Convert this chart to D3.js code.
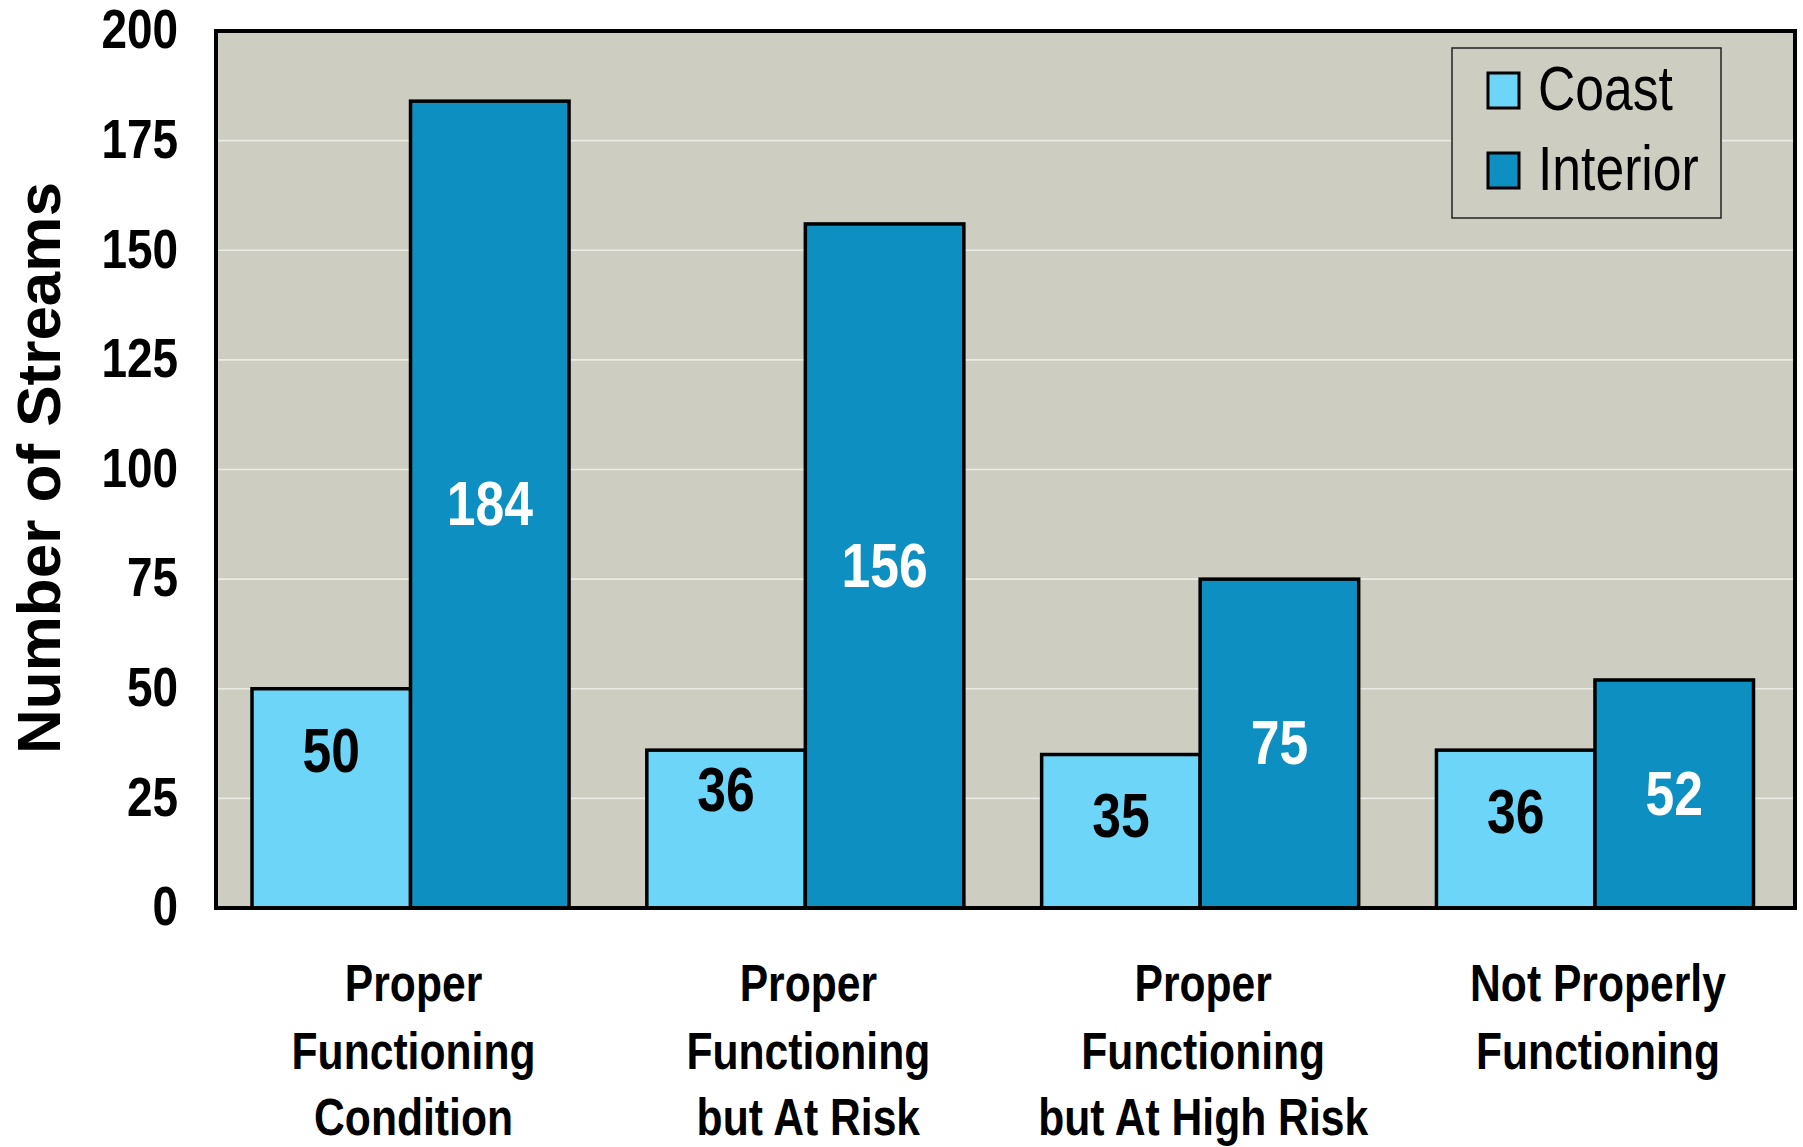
<!DOCTYPE html>
<html>
<head>
<meta charset="utf-8">
<script src="https://cdn.jsdelivr.net/npm/d3@7"></script>
<style>
  html, body { margin: 0; padding: 0; background: #ffffff; }
  svg { display: block; }
</style>
</head>
<body>
<svg id="chart" width="1803" height="1147"></svg>
<script>
// ---- data ----
const categories = [
  "Proper|Functioning|Condition",
  "Proper|Functioning|but At Risk",
  "Proper|Functioning|but At High Risk",
  "Not Properly|Functioning"
];
const seriesNames = ["Coast", "Interior"];
const coastValues = [50, 36, 35, 36];
const interiorValues = [184, 156, 75, 52];
const yTickValues = [0, 25, 50, 75, 100, 125, 150, 175, 200];
const coastLabelAt = [36, 27, 21, 22];   // where the Coast value labels sit, in data units
const yTitle = "Number of Streams";

(function () {
// ---- styles ----
const colors = { Coast: "#6dd5f8", Interior: "#0d8fc1" };
const bg = "#cdcdc1";
const NARROW = "'Liberation Sans Narrow', 'Arial Narrow', 'Liberation Sans', Arial, sans-serif";
const WIDE = "'Liberation Sans', Arial, sans-serif";

const svg = d3.select("#chart");

// detect narrow font availability
const probe = svg.append("text").attr("font-family", NARROW).attr("font-size", 50).text("Functioning Proper");
const probe2 = svg.append("text").attr("font-family", WIDE).attr("font-size", 50).text("Functioning Proper");
const ratio = probe.node().getComputedTextLength() / probe2.node().getComputedTextLength();
probe.remove(); probe2.remove();
const squeeze = ratio > 0.95 ? 0.82 : 1;  // fallback horizontal squeeze

function narrowText(sel, px, py) {
  return sel.attr("transform", `translate(${px},${py}) scale(${squeeze},1)`);
}

const pLeft = 216, pRight = 1795, pTop = 31, pBottom = 908;

const x = d3.scaleBand().domain(categories).range([214.5, 1791]).paddingInner(0.197).paddingOuter(0.095);
const xs = d3.scaleBand().domain(seriesNames).range([0, x.bandwidth()]).padding(0);
const y = d3.scaleLinear().domain([0, 200]).range([pBottom, pTop]);

// plot background
svg.append("rect").attr("x", pLeft).attr("y", pTop).attr("width", pRight - pLeft).attr("height", pBottom - pTop).attr("fill", bg);

// gridlines
svg.append("g").selectAll("line").data(yTickValues.filter(v => v > 0 && v < 200)).join("line")
  .attr("x1", pLeft).attr("x2", pRight)
  .attr("y1", d => y(d)).attr("y2", d => y(d))
  .attr("stroke", "#ebebe6").attr("stroke-width", 1.6);

// bars
const rows = categories.map((c, i) => ({ cat: c, Coast: coastValues[i], Interior: interiorValues[i], labelAt: coastLabelAt[i] }));
const groups = svg.append("g").selectAll("g").data(rows).join("g")
  .attr("transform", d => `translate(${x(d.cat)},0)`);

groups.selectAll("rect").data(d => seriesNames.map(s => ({ s, v: d[s] }))).join("rect")
  .attr("x", d => xs(d.s)).attr("width", xs.bandwidth())
  .attr("y", d => y(d.v)).attr("height", d => y(0) - y(d.v))
  .attr("fill", d => colors[d.s]).attr("stroke", "#000").attr("stroke-width", 3.5);

// frame
svg.append("rect").attr("x", pLeft).attr("y", pTop).attr("width", pRight - pLeft).attr("height", pBottom - pTop)
  .attr("fill", "none").attr("stroke", "#000").attr("stroke-width", 4);

// value labels
groups.each(function(d) {
  const g = d3.select(this);
  narrowText(g.append("text"), xs("Coast") + xs.bandwidth() / 2, y(d.labelAt))
    .attr("text-anchor", "middle").attr("dy", "0.34em")
    .attr("font-family", NARROW).attr("font-weight", "bold").attr("font-size", 63)
    .attr("fill", "#000").text(d.Coast);
  narrowText(g.append("text"), xs("Interior") + xs.bandwidth() / 2, (y(d.Interior) + y(0)) / 2)
    .attr("text-anchor", "middle").attr("dy", "0.33em")
    .attr("font-family", NARROW).attr("font-weight", "bold").attr("font-size", 63)
    .attr("fill", "#fff").text(d.Interior);
});

// y axis tick labels
const yAxis = d3.axisLeft(y).tickValues(yTickValues).tickSize(0).tickPadding(0);
const ya = svg.append("g").attr("transform", `translate(${pLeft - 38},0)`).call(yAxis);
ya.select(".domain").remove();
ya.selectAll(".tick text")
  .attr("x", 0).attr("dy", "0.30em")
  .attr("font-family", NARROW).attr("font-weight", "bold").attr("font-size", 56)
  .attr("fill", "#000")
  .attr("transform", `scale(${squeeze},1)`);

// category labels
const lineY = [1001, 1069, 1135];
svg.append("g").selectAll("g").data(categories).join("g")
  .each(function(c) {
    const g = d3.select(this);
    c.split("|").forEach((line, i) => {
      narrowText(g.append("text"), x(c) + x.bandwidth() / 2 + 3, lineY[i])
        .attr("text-anchor", "middle")
        .attr("font-family", NARROW).attr("font-weight", "bold").attr("font-size", 52)
        .attr("fill", "#000").text(line);
    });
  });

// y axis title
svg.append("text")
  .attr("transform", `translate(60,468) rotate(-90)`)
  .attr("text-anchor", "middle")
  .attr("font-family", WIDE).attr("font-weight", "bold").attr("font-size", 62)
  .attr("fill", "#000").text(yTitle);

// legend
const lg = svg.append("g");
lg.append("rect").attr("x", 1452).attr("y", 48).attr("width", 269).attr("height", 170)
  .attr("fill", bg).attr("stroke", "#222").attr("stroke-width", 1.5);
const legendRows = lg.selectAll("g").data(seriesNames).join("g")
  .attr("transform", (d, i) => `translate(0,${i * 80})`);
legendRows.append("rect").attr("x", 1488).attr("y", 73).attr("width", 31).attr("height", 35)
  .attr("fill", d => colors[d]).attr("stroke", "#000").attr("stroke-width", 3);
legendRows.each(function(d) {
  narrowText(d3.select(this).append("text"), 1538, 110)
    .attr("font-family", NARROW).attr("font-size", 63).attr("fill", "#000").text(d);
});
})();
</script>
</body>
</html>
